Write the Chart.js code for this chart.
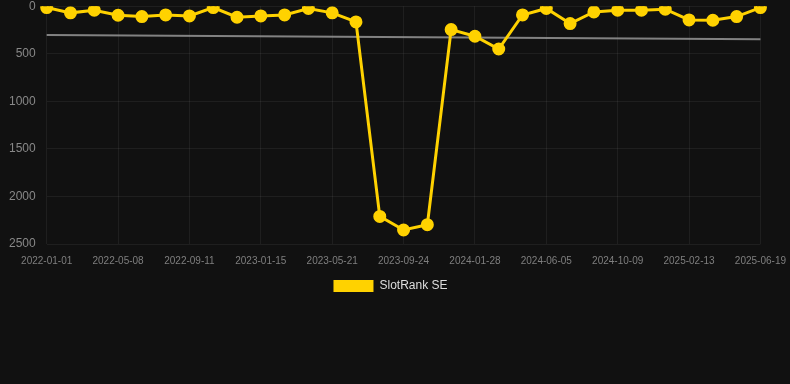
<!DOCTYPE html>
<html>
<head>
<meta charset="utf-8">
<script src="https://cdn.jsdelivr.net/npm/chart.js@4"></script>
<style>
  html, body { margin: 0; padding: 0; background: #111111; overflow: hidden; }
  #wrap { position: relative; width: 797px; height: 316px; margin-top: -12px; }
</style>
</head>
<body>
<div id="wrap"><canvas id="c"></canvas></div>
<script>
const dates = [
  '2022-01-01','2022-02-12','2022-03-26','2022-05-08','2022-06-19','2022-07-31',
  '2022-09-11','2022-10-23','2022-12-04','2023-01-15','2023-02-26','2023-04-09',
  '2023-05-21','2023-07-02','2023-08-13','2023-09-24','2023-11-05','2023-12-17',
  '2024-01-28','2024-03-10','2024-04-22','2024-06-05','2024-07-17','2024-08-28',
  '2024-10-09','2024-11-20','2025-01-01','2025-02-13','2025-03-27','2025-05-08',
  '2025-06-19'
];
const rankSE = [
  14, 70, 42, 95, 109, 92, 102, 14, 116, 102, 92, 24, 70, 165,
  2210, 2353, 2297, 246, 316, 450, 92, 24, 183, 60, 42, 42, 32,
  144, 148, 109, 14
];
const trendStart = 302;
const trendEnd = 348;
const trend = dates.map((d, i) => i === 0 ? trendStart : (i === dates.length - 1 ? trendEnd : null));

const gridColor = 'rgba(255,255,255,0.06)';
const font = 'Liberation Sans, Arial, sans-serif';

const legendShift = {
  id: 'legendShift',
  afterLayout(chart) {
    const lg = chart.legend;
    if (!lg) return;
    lg.left -= 7; lg.right -= 7;
    lg.top -= 2; lg.bottom -= 2;
  }
};

new Chart(document.getElementById('c'), {
  type: 'line',
  data: {
    labels: dates,
    datasets: [
      {
        label: 'SlotRank SE',
        data: rankSE,
        borderColor: '#ffd200',
        backgroundColor: '#ffd200',
        borderWidth: 3,
        pointRadius: 5,
        pointHoverRadius: 5,
        pointBackgroundColor: '#ffd200',
        pointBorderColor: '#ffd200',
        tension: 0
      },
      {
        label: 'Trend',
        data: trend,
        borderColor: 'rgba(150,150,150,0.85)',
        borderWidth: 2,
        pointRadius: 0,
        spanGaps: true,
        tension: 0
      }
    ]
  },
  plugins: [legendShift],
  options: {
    responsive: true,
    maintainAspectRatio: false,
    animation: false,
    layout: { autoPadding: false, padding: { top: 0, right: 0, left: -2, bottom: 0 } },
    plugins: {
      legend: {
        position: 'bottom',
        labels: {
          color: '#dddddd',
          boxWidth: 40,
          boxHeight: 12,
          padding: 4,
          font: { family: font, size: 12 },
          filter: (item) => item.text !== 'Trend',
          generateLabels: (chart) => Chart.defaults.plugins.legend.labels.generateLabels(chart)
            .map(l => Object.assign(l, { lineWidth: 0 }))
        }
      },
      tooltip: { enabled: false }
    },
    scales: {
      x: {
        grid: {
          color: (ctx) => (ctx.index % 3 === 0 ? gridColor : 'transparent'),
          drawTicks: false
        },
        border: { display: false },
        ticks: {
          autoSkip: false,
          maxRotation: 0,
          padding: 11,
          color: '#7f7f7f',
          font: { family: font, size: 10 },
          callback: function(v, i) { return i % 3 === 0 ? dates[i] : ''; }
        }
      },
      y: {
        reverse: true,
        min: 0,
        max: 2500,
        grid: { color: gridColor, drawTicks: false },
        border: { display: false },
        ticks: {
          stepSize: 500,
          padding: 11,
          color: '#888888',
          font: { family: font, size: 12 },
          callback: (v) => String(v)
        }
      }
    }
  }
});
</script>
</body>
</html>
